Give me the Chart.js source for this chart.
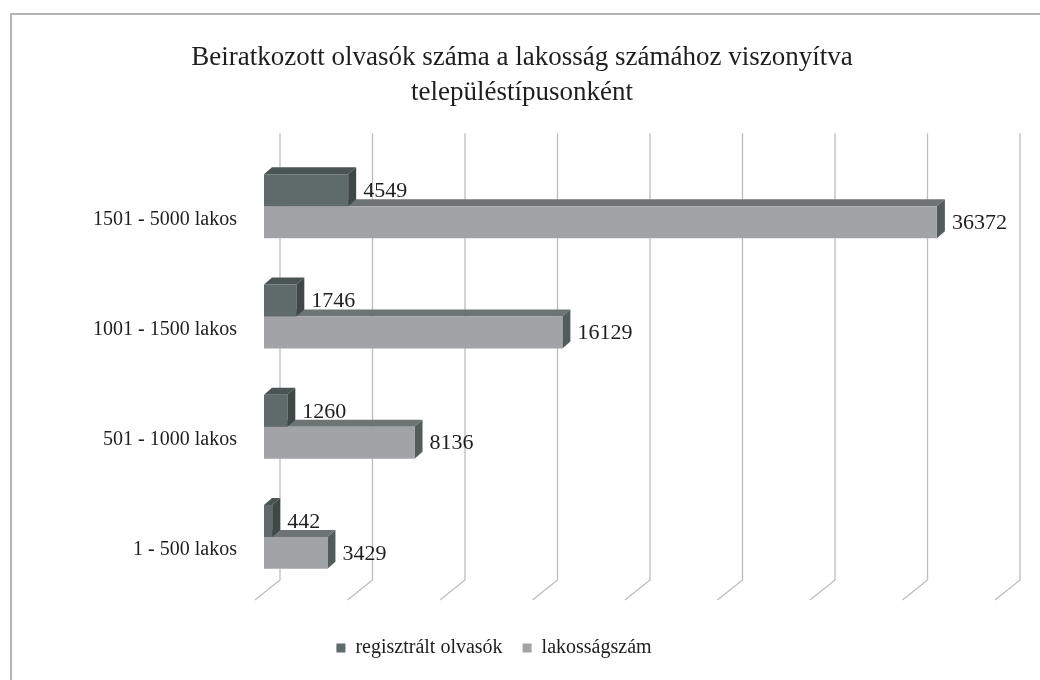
<!DOCTYPE html>
<html>
<head>
<meta charset="utf-8">
<script src="https://cdn.jsdelivr.net/npm/chart.js@4.4.1/dist/chart.umd.min.js"></script>
<style>
  html, body { margin: 0; padding: 0; background: #ffffff; }
  #wrap { position: relative; width: 1040px; height: 680px; overflow: hidden; }
  #frame { position: absolute; left: 10px; top: 13px; width: 1100px; height: 760px;
           border-left: 2px solid #b4b4b4; border-top: 2px solid #b4b4b4; }
  canvas { position: absolute; left: 0; top: 0; }
</style>
</head>
<body>
<div id="wrap">
  <div id="frame"></div>
  <canvas id="c" width="1040" height="680"></canvas>
</div>
<script>
// ---- data ----
const categories = ["1501 - 5000 lakos", "1001 - 1500 lakos", "501 - 1000 lakos", "1 - 500 lakos"];
const registeredReaders = [4549, 1746, 1260, 442];
const population = [36372, 16129, 8136, 3429];
const seriesNames = ["regisztrált olvasók", "lakosságszám"];
const titleLines = ["Beiratkozott olvasók száma a lakosság számához viszonyítva", "településtípusonként"];

const FONT = "'Liberation Serif', 'Times New Roman', serif";
const TEXT = "#1e1e1e";
const DEPTH_X = 8, DEPTH_Y = 7;
const faceColors = [
  { front: "#5f6a6a", top: "#4a5453", side: "#3f4847" },
  { front: "#a1a3a7", top: "#6e7474", side: "#535c5b" }
];

// nudge title / legend blocks horizontally to match the original placement
const blockShift = {
  id: "blockShift",
  afterLayout(chart) {
    const t = chart.titleBlock, l = chart.legend;
    if (t) { t.left += 20; t.right += 20; }
    if (l) { l.left -= 8; l.right -= 8; }
  }
};

// back-wall gridlines + 3D depth faces (drawn before the front faces)
const depthPlugin = {
  id: "depth3d",
  beforeDatasetsDraw(chart) {
    const ctx = chart.ctx;
    const xs = chart.scales.x;
    const area = chart.chartArea;
    ctx.save();
    ctx.strokeStyle = "#bdbdbd";
    ctx.lineWidth = 1.3;
    xs.ticks.forEach(t => {
      const x = xs.getPixelForValue(t.value) + 16;
      ctx.beginPath();
      ctx.moveTo(x, area.top - 18);
      ctx.lineTo(x, area.bottom - 12);
      ctx.lineTo(x - 25, area.bottom + 8);
      ctx.stroke();
    });
    for (let d = chart.data.datasets.length - 1; d >= 0; d--) {
      const meta = chart.getDatasetMeta(d);
      const col = faceColors[d];
      meta.data.forEach(bar => {
        const p = bar.getProps(["x", "y", "base", "height"], true);
        const top = p.y - p.height / 2, bot = p.y + p.height / 2;
        ctx.fillStyle = col.top;
        ctx.beginPath();
        ctx.moveTo(p.base, top);
        ctx.lineTo(p.base + DEPTH_X, top - DEPTH_Y);
        ctx.lineTo(p.x + DEPTH_X, top - DEPTH_Y);
        ctx.lineTo(p.x, top);
        ctx.closePath();
        ctx.fill();
        ctx.fillStyle = col.side;
        ctx.beginPath();
        ctx.moveTo(p.x, top);
        ctx.lineTo(p.x + DEPTH_X, top - DEPTH_Y);
        ctx.lineTo(p.x + DEPTH_X, bot - DEPTH_Y);
        ctx.lineTo(p.x, bot);
        ctx.closePath();
        ctx.fill();
      });
    }
    ctx.restore();
  },
  afterDatasetsDraw(chart) {
    const ctx = chart.ctx;
    ctx.save();
    ctx.font = "22px " + FONT;
    ctx.fillStyle = TEXT;
    ctx.textAlign = "left";
    ctx.textBaseline = "middle";
    chart.data.datasets.forEach((ds, d) => {
      const meta = chart.getDatasetMeta(d);
      meta.data.forEach((bar, i) => {
        const p = bar.getProps(["x", "y"], true);
        ctx.fillText(String(ds.data[i]), p.x + DEPTH_X + 7, p.y + 1);
      });
    });
    ctx.restore();
  }
};

new Chart(document.getElementById("c"), {
  type: "bar",
  data: {
    labels: categories,
    datasets: [
      { label: seriesNames[0], data: registeredReaders, backgroundColor: faceColors[0].front },
      { label: seriesNames[1], data: population, backgroundColor: faceColors[1].front }
    ]
  },
  options: {
    indexAxis: "y",
    responsive: false,
    animation: false,
    devicePixelRatio: 1,
    datasets: { bar: { barPercentage: 1.0, categoryPercentage: 0.58 } },
    layout: { padding: { left: 0, right: 36, top: 22, bottom: 12 } },
    scales: {
      x: {
        min: 0, max: 40000,
        ticks: { display: false, stepSize: 5000 },
        grid: { display: false },
        border: { display: false },
        afterFit: s => { s.height = 26; }
      },
      y: {
        grid: { display: false },
        border: { display: false },
        ticks: { color: TEXT, font: { family: FONT, size: 20 }, padding: 19, labelOffset: 13 },
        afterFit: s => { s.width = 264; }
      }
    },
    plugins: {
      title: {
        display: true,
        text: titleLines,
        color: TEXT,
        font: { family: FONT, size: 27, weight: "normal", lineHeight: 1.3 },
        padding: { top: 18, bottom: 41 }
      },
      legend: {
        position: "bottom",
        labels: {
          color: TEXT,
          font: { family: FONT, size: 20 },
          boxWidth: 9, boxHeight: 9, padding: 20
        }
      },
      tooltip: { enabled: false }
    }
  },
  plugins: [blockShift, depthPlugin]
});
</script>
</body>
</html>
